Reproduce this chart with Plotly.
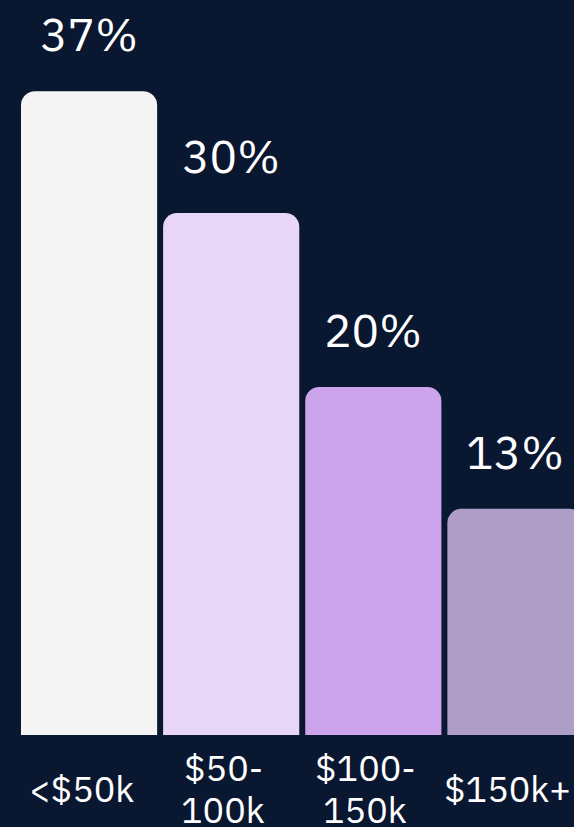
import plotly.graph_objects as go

# income brackets and share of respondents (%)
categories = ["<$50k", "$50-<br>100k", "$100-<br>150k", "$150k+"]
values = [37, 30, 20, 13]
bar_colors = ["#f4f4f4", "#e8d6f6", "#cba4ec", "#ad9dc7"]

BG = "#0a1730"
FONT = "IBM Plex Sans, Roboto, Arial, sans-serif"

fig = go.Figure()
fig.add_trace(go.Bar(
    x=list(range(len(categories))),
    y=values,
    marker=dict(color=bar_colors, line=dict(width=0), cornerradius=14),
    hoverinfo="skip",
))

# value labels above the bars
for i, v in enumerate(values):
    fig.add_annotation(
        x=i, y=v, text=f"{v}%", showarrow=False,
        yanchor="bottom", yshift=25,
        font=dict(family=FONT, size=46, color="#ffffff"),
    )

# category labels under the bars, one annotation per line (tight line height)
for i, cat in enumerate(categories):
    lines = cat.split("<br>")
    n = len(lines)
    for j, line in enumerate(lines):
        fig.add_annotation(
            x=i, xref="x", y=0, yref="paper", text=line, showarrow=False,
            xanchor="center", yanchor="middle",
            xshift=-8, yshift=-53 - (j - (n - 1) / 2) * 42,
            font=dict(family=FONT, size=36, color="#ffffff"),
        )

fig.update_layout(
    width=574, height=827,
    margin=dict(l=18, r=0, t=39, b=92),
    paper_bgcolor=BG, plot_bgcolor=BG,
    bargap=0.042,
    showlegend=False,
    xaxis=dict(
        range=[-0.5, 3.412], showticklabels=False,
        showgrid=False, zeroline=False, showline=False, ticks="",
    ),
    yaxis=dict(range=[0, 40], visible=False, showgrid=False, zeroline=False),
)

fig.write_html(
    "out.html",
    config={"displayModeBar": False},
    post_script="document.body.style.margin='0';",
)
